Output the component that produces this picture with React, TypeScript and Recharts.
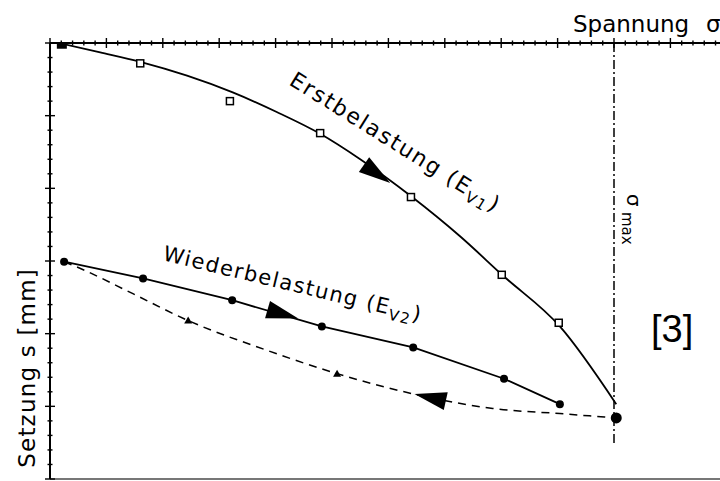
import React from "react";
import { ComposedChart, Line, Scatter, XAxis, YAxis, ReferenceLine } from "recharts";

// Spannung sigma (one unit per major tick), Setzung s (one unit per major tick)
const erstCurve = [
  { x: 0.21, y: 0.01 },
  { x: 0.89, y: 0.13 },
  { x: 1.6, y: 0.26 },
  { x: 2.43, y: 0.45 },
  { x: 3.24, y: 0.68 },
  { x: 4.02, y: 0.95 },
  { x: 4.79, y: 1.25 },
  { x: 5.5, y: 1.6 },
  { x: 6.42, y: 2.12 },
  { x: 7.27, y: 2.66 },
  { x: 8.03, y: 3.2 },
  { x: 9.04, y: 3.9 },
  { x: 10.04, y: 4.97 },
];
const erstPoints = [
  { x: 1.6, y: 0.28 },
  { x: 3.19, y: 0.8 },
  { x: 4.79, y: 1.24 },
  { x: 6.4, y: 2.12 },
  { x: 8.01, y: 3.19 },
  { x: 9.02, y: 3.85 },
];
const startPoint = [{ x: 0.21, y: 0.01 }];
const wiederPoints = [
  { x: 0.25, y: 3.01 },
  { x: 1.65, y: 3.24 },
  { x: 3.23, y: 3.54 },
  { x: 4.82, y: 3.9 },
  { x: 6.44, y: 4.19 },
  { x: 8.05, y: 4.62 },
  { x: 9.04, y: 4.97 },
];
const entlastCurve = [
  { x: 0.25, y: 3.01 },
  { x: 0.53, y: 3.1 },
  { x: 1.47, y: 3.45 },
  { x: 2.45, y: 3.82 },
  { x: 3.85, y: 4.23 },
  { x: 5.09, y: 4.55 },
  { x: 6.74, y: 4.88 },
  { x: 7.85, y: 5.03 },
  { x: 9.04, y: 5.1 },
  { x: 10.04, y: 5.16 },
];
const entlastPoints = [
  { x: 2.45, y: 3.82 },
  { x: 5.09, y: 4.55 },
];
const maxPoint = [{ x: 10.04, y: 5.16 }];
const arrowErst = [{ x: 5.8, y: 1.8 }];
const arrowWieder = [{ x: 4.13, y: 3.73 }];
const arrowEntlast = [{ x: 6.74, y: 4.88 }];
const sigmaMax = 10;
const sigmaLineEnd = 5.52;

const X_TICKS = Array.from({ length: 61 }, (_, i) => i / 5);
const Y_TICKS = Array.from({ length: 31 }, (_, i) => i / 5);

const isMajor = (v: number) => Math.abs(v - Math.round(v)) < 1e-6;

const XTick = (props: any) => {
  const { x, y, payload } = props;
  const len = isMajor(payload.value) ? 5 : 2.5;
  return <line x1={x} x2={x} y1={y - len} y2={y + len} stroke="#000" strokeWidth={1.4} />;
};

const YTick = (props: any) => {
  const { x, y, payload } = props;
  const len = isMajor(payload.value) ? 5 : 2.5;
  return <line x1={x - len} x2={x + len} y1={y} y2={y} stroke="#000" strokeWidth={1.4} />;
};

const OpenSquare = (p: any) => (
  <rect x={p.cx - 3.5} y={p.cy - 3.5} width={7} height={7} fill="#fff" stroke="#000" strokeWidth={1.5} />
);
const FilledSquare = (p: any) => <rect x={p.cx - 5} y={p.cy - 5} width={10} height={10} fill="#000" />;
const Dot = (p: any) => <circle cx={p.cx} cy={p.cy} r={4} fill="#000" />;
const BigDot = (p: any) => <circle cx={p.cx} cy={p.cy} r={5.5} fill="#000" />;
const SmallTri = (p: any) => (
  <polygon points={`${p.cx},${p.cy - 4} ${p.cx - 4},${p.cy + 3} ${p.cx + 4},${p.cy + 3}`} fill="#000" />
);
const arrow = (angle: number) => (p: any) => (
  <polygon
    points="16,0 -16,-9 -16,9"
    fill="#000"
    transform={`translate(${p.cx},${p.cy}) rotate(${angle})`}
  />
);

const font = "'DejaVu Sans', sans-serif";

export default function App() {
  return (
    <div style={{ position: "absolute", left: 0, top: 0, width: 720, height: 481, overflow: "hidden", background: "#fff" }}>
      <ComposedChart width={740} height={481} margin={{ top: 33, left: 40, right: 13.2, bottom: 2 }}>
        <XAxis
          type="number"
          dataKey="x"
          orientation="top"
          domain={[0, 12]}
          ticks={X_TICKS}
          interval={0}
          height={10}
          tickSize={0}
          tickMargin={0}
          tickLine={false}
          tick={<XTick />}
          axisLine={{ stroke: "#000", strokeWidth: 2 }}
          allowDataOverflow
        />
        <YAxis
          type="number"
          dataKey="y"
          domain={[0, 6]}
          reversed
          ticks={Y_TICKS}
          interval={0}
          width={10}
          tickSize={0}
          tickMargin={0}
          tickLine={false}
          tick={<YTick />}
          axisLine={{ stroke: "#000", strokeWidth: 2 }}
          allowDataOverflow
        />
        <ReferenceLine y={6} stroke="#777" strokeWidth={2} />
        <ReferenceLine
          segment={[
            { x: sigmaMax, y: 0 },
            { x: sigmaMax, y: sigmaLineEnd },
          ]}
          stroke="#000"
          strokeWidth={1.5}
          strokeDasharray="9 3 2 3"
        />
        <Line data={erstCurve} dataKey="y" type="monotone" stroke="#000" strokeWidth={1.8} dot={false} isAnimationActive={false} />
        <Line data={wiederPoints} dataKey="y" type="linear" stroke="#000" strokeWidth={1.8} dot={false} isAnimationActive={false} />
        <Line
          data={entlastCurve}
          dataKey="y"
          type="monotone"
          stroke="#000"
          strokeWidth={1.5}
          strokeDasharray="8 6"
          dot={false}
          isAnimationActive={false}
        />
        <Scatter data={erstPoints} shape={OpenSquare} isAnimationActive={false} />
        <Scatter data={startPoint} shape={FilledSquare} isAnimationActive={false} />
        <Scatter data={wiederPoints} shape={Dot} isAnimationActive={false} />
        <Scatter data={entlastPoints} shape={SmallTri} isAnimationActive={false} />
        <Scatter data={maxPoint} shape={BigDot} isAnimationActive={false} />
        <Scatter data={arrowErst} shape={arrow(35)} isAnimationActive={false} />
        <Scatter data={arrowWieder} shape={arrow(16)} isAnimationActive={false} />
        <Scatter data={arrowEntlast} shape={arrow(192.6)} isAnimationActive={false} />
      </ComposedChart>
      <svg width={720} height={481} style={{ position: "absolute", left: 0, top: 0, pointerEvents: "none" }}>
        <g fontFamily={font} fill="#000">
          <text x={573} y={32} fontSize={23}>Spannung</text>
          <text x={706} y={32} fontSize={23}>σ</text>
          <text transform="translate(35,268) rotate(-90)" fontSize={23} letterSpacing={1.2} textAnchor="end">
            Setzung s [mm]
          </text>
          <text transform="translate(288,84) rotate(32)" fontSize={22} letterSpacing={1.8}>
            Erstbelastung (E<tspan fontSize={15} dy={5}>V1</tspan>
            <tspan dy={-5}>)</tspan>
          </text>
          <text transform="translate(162,260) rotate(13.5)" fontSize={21} letterSpacing={1.5}>
            Wiederbelastung (E<tspan fontSize={15} dy={5}>V2</tspan>
            <tspan dy={-5}>)</tspan>
          </text>
          <text transform="translate(627,194) rotate(90)" fontSize={20}>σ</text>
          <text transform="translate(622,212) rotate(90)" fontSize={15}>max</text>
        </g>
        <text x={651} y={342} fontSize={38} fontFamily="'Liberation Sans', Arial, sans-serif" fill="#000">
          [3]
        </text>
      </svg>
    </div>
  );
}
